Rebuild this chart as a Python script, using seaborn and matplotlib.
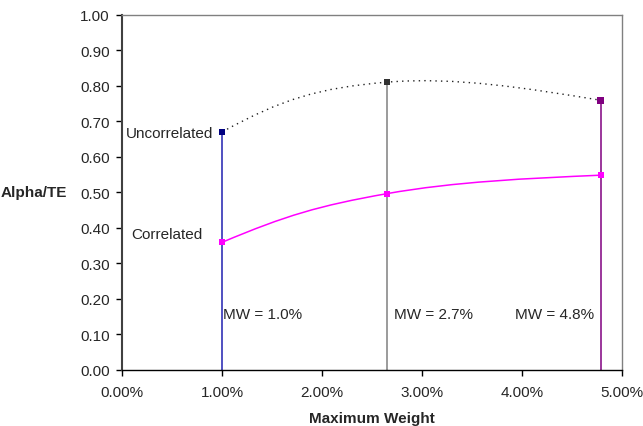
import numpy as np
import pandas as pd
import matplotlib
matplotlib.use("Agg")
import matplotlib.pyplot as plt
from matplotlib.path import Path
from matplotlib.patches import PathPatch
from matplotlib.ticker import FuncFormatter, MultipleLocator
import seaborn as sns

# ---- data ----
max_weight = [1.0, 2.65, 4.79]           # percent
uncorrelated = [0.670, 0.810, 0.759]
correlated = [0.359, 0.496, 0.548]
unc_marker_colors = ["#000080", "#333333", "#800080"]
vline_colors = ["#2020B0", "#808080", "#800080"]
mw_labels = ["MW = 1.0%", "MW = 2.7%", "MW = 4.8%"]

sns.set_theme(style="white")
plt.rcParams["font.family"] = ["Liberation Sans", "DejaVu Sans"]
FS = 11

fig = plt.figure(figsize=(6.43, 4.27), dpi=100)
ax = fig.add_axes([0.1902, 0.1318, 0.9669 - 0.1902, 0.9632 - 0.1318])
ax.set_xlim(0, 5)
ax.set_ylim(0, 1)


def _mirror(p_a, p_b, ctrl):
    """Reflect control point (relative to p_a) onto p_b across the perpendicular bisector of p_a-p_b."""
    d = p_b - p_a
    u = d / np.linalg.norm(d)
    v = ctrl - p_a
    along = v @ u
    perp = v - along * u
    return p_b - along * u + perp


def smooth_path(xs, ys, k=0.18):
    """Spreadsheet-style smoothed line: Bezier with Catmull-Rom interior tangents;
    computed in display space."""
    tr = ax.transData
    pts = tr.transform(np.column_stack([xs, ys]).astype(float))
    n = len(pts)
    verts = [pts[0]]
    codes = [Path.MOVETO]
    for i in range(n - 1):
        p1, p2 = pts[i], pts[i + 1]
        c1 = p1 + k * (pts[i + 1] - pts[i - 1]) if i > 0 else None
        c2 = p2 - k * (pts[i + 2] - pts[i]) if i + 2 < n else None
        if c1 is None and c2 is None:
            c1 = p1 + (p2 - p1) / 3.0
            c2 = p2 - (p2 - p1) / 3.0
        elif c1 is None:
            c1 = _mirror(p2, p1, c2)
        elif c2 is None:
            c2 = (c1 + p2) / 2.0
        verts += [c1, c2, p2]
        codes += [Path.CURVE4] * 3
    verts = tr.inverted().transform(np.array(verts))
    return Path(verts, codes)


# vertical drop lines
for x, top, c in zip(max_weight, uncorrelated, vline_colors):
    ax.vlines(x, 0, top, color=c, lw=1.1, zorder=2)

# smooth curves
ax.add_patch(PathPatch(smooth_path(max_weight, uncorrelated), fill=False,
                       edgecolor="#222222", lw=1.0, linestyle=(0, (1, 3)), zorder=3))
ax.add_patch(PathPatch(smooth_path(max_weight, correlated), fill=False,
                       edgecolor="#FF00FF", lw=1.1, zorder=3))

df_u = pd.DataFrame({"x": max_weight, "y": uncorrelated, "c": unc_marker_colors})
df_c = pd.DataFrame({"x": max_weight, "y": correlated})
sns.scatterplot(data=df_u, x="x", y="y", hue="c",
                palette=dict(zip(unc_marker_colors, unc_marker_colors)),
                marker="s", s=22, linewidth=0, legend=False, ax=ax, zorder=4)
sns.scatterplot(data=df_c, x="x", y="y", color="#FF00FF", marker="s", s=22,
                linewidth=0, legend=False, ax=ax, zorder=4)

# annotations
ax.text(0.907, 0.667, "Uncorrelated", ha="right", va="center", fontsize=FS)
ax.text(0.807, 0.382, "Correlated", ha="right", va="center", fontsize=FS)
ax.text(1.007, 0.157, mw_labels[0], ha="left", va="center", fontsize=FS)
ax.text(2.717, 0.157, mw_labels[1], ha="left", va="center", fontsize=FS)
ax.text(3.927, 0.157, mw_labels[2], ha="left", va="center", fontsize=FS)

ax.set_xlim(0, 5)
ax.set_ylim(0, 1)
ax.xaxis.set_major_locator(MultipleLocator(1))
ax.yaxis.set_major_locator(MultipleLocator(0.1))
ax.xaxis.set_major_formatter(FuncFormatter(lambda v, p: f"{v:.2f}%"))
ax.yaxis.set_major_formatter(FuncFormatter(lambda v, p: f"{v:.2f}"))
ax.tick_params(axis="both", which="major", direction="out", length=4, width=1,
               color="black", labelsize=FS, left=True, bottom=True)
ax.tick_params(axis="x", pad=7)
ax.tick_params(axis="y", pad=5)

ax.set_xlabel("Maximum Weight", fontsize=FS, fontweight="bold", labelpad=9)
ax.set_ylabel("")
fig.text(67 / 643, 1 - 193 / 427, "Alpha/TE", ha="right", va="center",
         fontsize=FS, fontweight="bold")

for side, col, w in [("left", "#404040", 1.5), ("bottom", "black", 1.0),
                     ("top", "#808080", 1.0), ("right", "#808080", 1.0)]:
    ax.spines[side].set_visible(True)
    ax.spines[side].set_color(col)
    ax.spines[side].set_linewidth(w)

fig.savefig("out.png", dpi=100)
